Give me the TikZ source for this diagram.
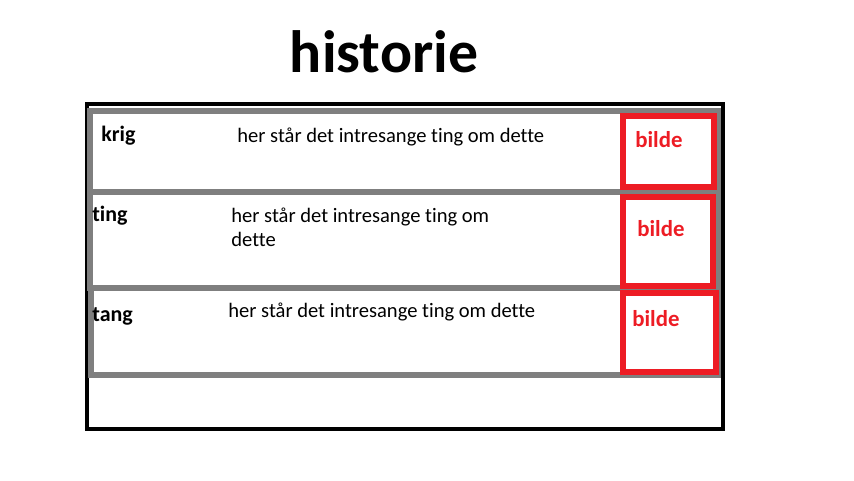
\documentclass[tikz,border=0pt]{standalone}
\usepackage{fontspec}
\setmainfont{Carlito}[Ligatures={NoCommon}]
\usepackage{xcolor}
\usetikzlibrary{positioning}
\definecolor{cFRAME}{HTML}{000000}
\definecolor{cROW}{HTML}{7F7F7F}
\definecolor{cPIC}{HTML}{ED1C24}

\begin{document}
\begin{tikzpicture}[
  x=0.02cm, y=-0.02cm,
  frame/.style={draw=cFRAME, line width=2.6pt},
  rowbox/.style={draw=cROW, line width=3.1pt},
  picbox/.style={draw=cPIC, line width=3.1pt},
  title/.style={font=\fontsize{34}{40}\selectfont\bfseries, anchor=base, inner sep=0pt},
  label/.style={font=\fontsize{12.5}{15}\selectfont\bfseries, anchor=base west, inner sep=0pt},
  body/.style={font=\fontsize{11.7}{13.6}\selectfont, anchor=base west, inner sep=0pt, align=left},
  pic/.style={font=\fontsize{13}{16}\selectfont\bfseries, text=cPIC, anchor=base west, inner sep=0pt}
]
\useasboundingbox (0,0) rectangle (854,480);

\node[title] (head) at (384,72) {historie};

\draw[frame] (87,104) rectangle (723,429);

% rows
\draw[rowbox] (90,111) rectangle (718,192);
\draw[rowbox] (90,192) rectangle (718,288);
\draw[rowbox] (91,288) rectangle (718,375);

% pictures
\draw[picbox] (623,116) rectangle (714,187);
\draw[picbox] (623,197) rectangle (713,286);
\draw[picbox] (623,293) rectangle (716,372);

\node[label] (krig) at (101,141) {krig};
\node[label] (ting) at (92,221) {ting};
\node[label] (tang) at (92,321) {tang};

\node[body] (txtkrig) at (237,142) {her står det intresange ting om dette};
\node[body, anchor=north west] (txtting) at (231,208) {her står det intresange ting om\\dette};
\node[body] (txttang) at (228,317) {her står det intresange ting om dette};

\node[pic] (bildekrig) at (635,147) {bilde};
\node[pic] (bildeting) at (637,236) {bilde};
\node[pic] (bildetang) at (632,326) {bilde};
\end{tikzpicture}
\end{document}
